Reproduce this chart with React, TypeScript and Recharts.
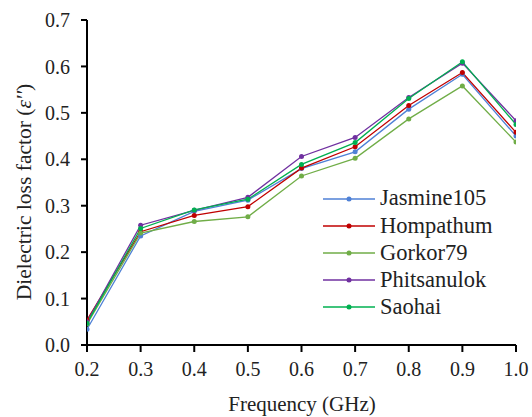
import { LineChart, Line, XAxis, YAxis } from "recharts";

const frequency = [0.2, 0.3, 0.4, 0.5, 0.6, 0.7, 0.8, 0.9, 1.0];
const jasmine105 = [0.034, 0.235, 0.288, 0.312, 0.38, 0.416, 0.508, 0.583, 0.45];
const hompathum = [0.054, 0.244, 0.279, 0.298, 0.381, 0.427, 0.516, 0.587, 0.458];
const gorkor79 = [0.045, 0.241, 0.266, 0.276, 0.364, 0.402, 0.487, 0.558, 0.437];
const phitsanulok = [0.05, 0.258, 0.29, 0.318, 0.406, 0.447, 0.533, 0.607, 0.483];
const saohai = [0.047, 0.251, 0.291, 0.314, 0.389, 0.436, 0.531, 0.61, 0.475];

const xTicks = [0.2, 0.3, 0.4, 0.5, 0.6, 0.7, 0.8, 0.9, 1.0];
const yTicks = [0, 0.1, 0.2, 0.3, 0.4, 0.5, 0.6, 0.7];

const series = [
  { key: "jasmine", name: "Jasmine105", color: "#4f81d6", values: jasmine105 },
  { key: "hompathum", name: "Hompathum", color: "#c00000", values: hompathum },
  { key: "gorkor", name: "Gorkor79", color: "#70ad47", values: gorkor79 },
  { key: "phitsanulok", name: "Phitsanulok", color: "#7030a0", values: phitsanulok },
  { key: "saohai", name: "Saohai", color: "#00b050", values: saohai }
];

const data = frequency.map((f, i) => {
  const row: Record<string, number> = { f };
  series.forEach((s) => {
    row[s.key] = s.values[i];
  });
  return row;
});

const font = "Times New Roman, Tinos, Liberation Serif, DejaVu Serif, serif";
const tick = { fill: "#222", fontSize: 20, fontFamily: font };

function LegendBox() {
  return (
    <div style={{ position: "absolute", left: 323, top: 185, fontFamily: font, fontSize: 22.5, color: "#222", lineHeight: 1 }}>
      {series.map((s) => (
        <div key={s.key} style={{ display: "flex", alignItems: "center", height: 27.2 }}>
          <svg width={53} height={10}>
            <line x1={0} y1={5} x2={52} y2={5} stroke={s.color} strokeWidth={1.5} />
            <circle cx={26} cy={5} r={2.5} fill={s.color} />
          </svg>
          <span style={{ marginLeft: 4 }}>{s.name}</span>
        </div>
      ))}
    </div>
  );
}

export default function App() {
  return (
    <div style={{ position: "absolute", left: 0, top: 0, width: 532, height: 417, background: "#fff" }}>
      <LineChart width={532} height={417} data={data} margin={{ top: 20, right: 16, bottom: 12, left: 0 }}>
        <XAxis
          dataKey="f"
          type="number"
          domain={[0.2, 1.0]}
          ticks={xTicks}
          tickFormatter={(v: number) => v.toFixed(1)}
          tick={tick}
          tickSize={7}
          tickMargin={10}
          height={60}
          stroke="#000"
          strokeWidth={2}
          allowDataOverflow
        />
        <YAxis
          type="number"
          domain={[0, 0.7]}
          ticks={yTicks}
          tickFormatter={(v: number) => v.toFixed(1)}
          tick={tick}
          tickSize={6}
          tickMargin={11}
          width={87}
          stroke="#000"
          strokeWidth={2}
        />
        {series.map((s) => (
          <Line
            key={s.key}
            type="linear"
            dataKey={s.key}
            name={s.name}
            stroke={s.color}
            strokeWidth={1.3}
            dot={{ r: 2.5, fill: s.color, stroke: s.color, strokeWidth: 0 }}
            isAnimationActive={false}
          />
        ))}
        <text x={302} y={411} textAnchor="middle" fontFamily={font} fontSize={21} fill="#222">
          Frequency (GHz)
        </text>
        <text
          x={31}
          y={192}
          textAnchor="middle"
          fontFamily={font}
          fontSize={21.5}
          fill="#222"
          transform="rotate(-90 31 192)"
        >
          Dielectric loss factor (<tspan fontStyle="italic">ε''</tspan>)
        </text>
      </LineChart>
      <LegendBox />
    </div>
  );
}
